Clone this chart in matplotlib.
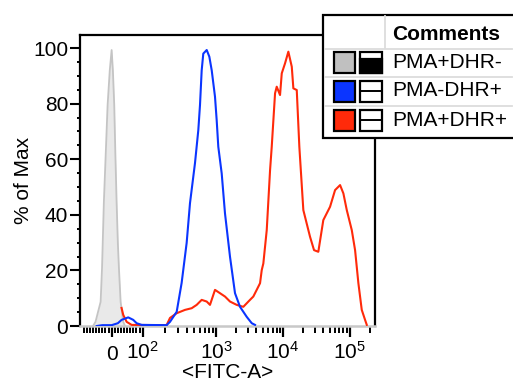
import numpy as np
import matplotlib
matplotlib.use("Agg")
import matplotlib.pyplot as plt
from matplotlib.patches import Rectangle
from matplotlib.lines import Line2D
from matplotlib.ticker import FixedLocator, FixedFormatter

plt.rcParams['font.family'] = ['Liberation Sans', 'DejaVu Sans']
plt.rcParams['mathtext.fontset'] = 'custom'
plt.rcParams['mathtext.rm'] = 'Liberation Sans'

# ---------------- data (FITC-A intensity, % of Max) ----------------
gray_x = [-60, -52, -35.5, -31, -25, -19, -13, -6, 0, 4, 8.4, 12, 16, 20, 23.5, 29, 37.4, 43]
gray_y = [0, 1.5, 8.7, 20.8, 44.7, 62, 79.5, 92, 99.3, 92, 79.5, 62, 44.7, 30, 20.8, 8.7, 1.5, 0]

blue_x = [-48, -30, 0, 20, 32, 53.5, 69.7, 80.6, 96.8, 212, 236, 291, 340, 398, 442, 517,
          574, 605, 638, 671, 747, 811, 874, 969, 1024, 1082, 1216, 1362, 1618, 1921,
          2281, 2872, 3414, 3820]
blue_y = [0, 0.3, 0.3, 1.0, 2.2, 3.1, 2.2, 1.0, 0.4, 0.3, 1.5, 5.1, 15.5, 29.9, 44.2, 58.6,
          70.5, 79.5, 92, 98, 99.3, 96.9, 92, 82.5, 74, 64.5, 54.9, 40.5, 24.9, 11.8,
          6.9, 3.3, 1.0, 0.4]

red_x = [32, 37.4, 48.4, 64.5, 212, 236, 291, 378, 466, 545, 638, 747, 828, 969, 1147,
         1362, 1618, 2037, 2555, 3214, 3604, 4047, 4539, 4810, 5083, 5712, 6401, 6782,
         7599, 8050, 9020, 9567, 10716, 12018, 13526, 14294, 16072, 17577, 20185, 25450,
         29228, 33897, 40290, 50885, 60520, 71980, 80720, 90770, 107900, 120950, 135600,
         152400, 170900, 181400]
red_y = [6.5, 4, 1.5, 0.4, 0.3, 2.9, 4.6, 5.8, 6.4, 7.6, 9.4, 8.8, 7.6, 13, 11.8,
         10.6, 8.8, 7.6, 6.9, 9.4, 10.6, 13, 15.4, 20.1, 22.5, 34.5, 56, 64.5,
         83.7, 86.1, 83.1, 90.9, 94.5, 98.7, 93.3, 85.5, 84.9, 64.5, 41.7, 32.1,
         27.3, 26.7, 38.1, 42.9, 48.9, 50.7, 47.7, 41.7, 34.5, 27.3, 15.4,
         5.8, 2.2, 0.4]

series_names = ['PMA+DHR-', 'PMA-DHR+', 'PMA+DHR+']
series_colors = ['#c0c0c0', '#0b35ff', '#ff2a0a']

x_major = [0, 100, 1000, 10000, 100000]
x_major_labels = ['', r'$\mathregular{10^{2}}$', r'$\mathregular{10^{3}}$',
                  r'$\mathregular{10^{4}}$', r'$\mathregular{10^{5}}$']
x_minor = ([-90, -80, -70, -60, -50, -40, -30, -20, -10, 0, 10, 20, 30, 40, 50, 60, 70, 80, 90]
           + [200, 300, 400, 500, 600, 700, 800, 900]
           + [2000, 3000, 4000, 5000, 6000, 7000, 8000, 9000]
           + [20000, 30000, 40000, 50000, 60000, 70000, 80000, 90000, 200000])
y_major = [0, 20, 40, 60, 80, 100]

FS = 15

# ---------------- biexponential-like display scale ----------------
_LOG = [2, 3, 4, 5, 6]
_POS = [31.0, 104.3, 171.3, 237.8, 304.3]


def fwd(x):
    x = np.asarray(x, dtype=float)
    lg = np.log10(np.maximum(x, 100.0))
    return np.where(x <= 100, x * 0.31, np.interp(lg, _LOG, _POS))


def inv(y):
    y = np.asarray(y, dtype=float)
    return np.where(y <= 31.0, y / 0.31, 10 ** np.interp(np.maximum(y, 31.0), _POS, _LOG))


W, H = 513, 380
fig = plt.figure(figsize=(W / 100, H / 100), dpi=100)
ax = fig.add_axes([80 / W, (H - 326) / H, (375 - 80) / W, (326 - 35) / H])
ax.set_xscale('function', functions=(fwd, inv))

ax.fill_between(gray_x, gray_y, 0, color='#e9e9e9', zorder=1, lw=0)
ax.plot(gray_x, gray_y, color='#c4c4c4', lw=1.3, zorder=2)
ax.plot(red_x, red_y, color=series_colors[2], lw=1.5, zorder=3)
ax.plot(blue_x, blue_y, color=series_colors[1], lw=1.5, zorder=4)

ax.set_xlim(-102, 241000)
ax.set_ylim(0, 104.7)

for s in ['left', 'top', 'right']:
    ax.spines[s].set_color('black')
    ax.spines[s].set_linewidth(1.6)
ax.spines['bottom'].set_color('#c8c8c8')
ax.spines['bottom'].set_linewidth(1.8)

ax.xaxis.remove_overlapping_locs = False
ax.xaxis.set_major_locator(FixedLocator(x_major))
ax.xaxis.set_major_formatter(FixedFormatter(x_major_labels))
ax.xaxis.set_minor_locator(FixedLocator(x_minor))
ax.xaxis.set_minor_formatter(FixedFormatter(['0' if v == 0 else '' for v in x_minor]))
ax.tick_params(axis='x', which='major', length=8, width=1.6, pad=2.5, labelsize=FS, color='black')
ax.tick_params(axis='x', which='minor', length=5, width=1.4, pad=9.0, labelsize=FS, color='black')

ax.yaxis.set_major_locator(FixedLocator(y_major))
ax.yaxis.set_minor_locator(FixedLocator([v for v in range(5, 101, 5) if v % 20]))
ax.tick_params(axis='y', which='major', length=7, width=1.5, pad=1.5, labelsize=FS)
ax.tick_params(axis='y', which='minor', length=2.5, width=1.4)

ax.set_ylabel('% of Max', fontsize=FS)
ax.yaxis.set_label_coords(-0.16, 0.5)
ax.set_xlabel('<FITC-A>', fontsize=FS)
ax.xaxis.set_label_coords(0.5, -0.128)


# ---------------- table-style legend ----------------
def rect(x0, y0, x1, y1, **kw):
    r = Rectangle((x0 / W, 1 - y1 / H), (x1 - x0) / W, (y1 - y0) / H,
                  transform=fig.transFigure, clip_on=False, **kw)
    fig.add_artist(r)
    return r


def hline(x0, x1, y, **kw):
    fig.add_artist(Line2D([x0 / W, x1 / W], [1 - y / H, 1 - y / H], transform=fig.transFigure, **kw))


def vline(x, y0, y1, **kw):
    fig.add_artist(Line2D([x / W, x / W], [1 - y0 / H, 1 - y1 / H], transform=fig.transFigure, **kw))


rect(323, 14.5, 530, 138, facecolor='white', edgecolor='black', lw=1.6, zorder=10)
for yy in [49, 77, 106]:
    hline(325, 512, yy, color='#dcdcdc', lw=1.3, zorder=11)
vline(385, 16, 48, color='#dcdcdc', lw=1.3, zorder=11)
fig.text(392 / W, 1 - 35 / H, 'Comments', fontsize=FS, fontweight='bold', va='center', ha='left', zorder=12)

row_centers = [62, 91, 120]
for i, (name, col) in enumerate(zip(series_names, series_colors)):
    cy = row_centers[i]
    rect(334, cy - 10.5, 355, cy + 10.5, facecolor=col, edgecolor='black', lw=1.6, zorder=12)
    rect(359.5, cy - 10.5, 381.5, cy + 10.5, facecolor='white', edgecolor='black', lw=1.6, zorder=12)
    if i == 0:
        rect(359.5, cy - 3, 381.5, cy + 10.5, facecolor='black', edgecolor='black', lw=1.6, zorder=13)
    else:
        hline(359.5, 381.5, cy, color='black', lw=1.4, zorder=13)
    fig.text(392.5 / W, 1 - cy / H, name, fontsize=FS, va='center', ha='left', zorder=12)

fig.savefig('out.png', dpi=100)
